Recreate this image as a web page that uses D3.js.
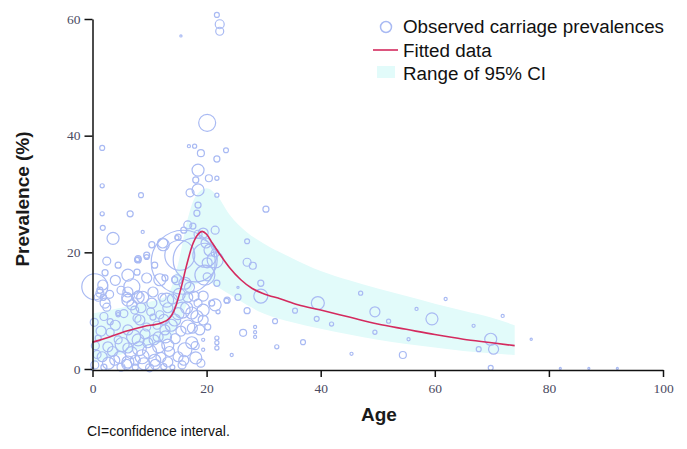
<!DOCTYPE html>
<html><head><meta charset="utf-8">
<script src="https://cdn.jsdelivr.net/npm/d3@7"></script>
<style>body{margin:0;background:#fff;}svg{display:block;}</style>
</head><body>
<svg id="chart" width="687" height="449"></svg>
<script>
// Observed carriage prevalences: age (years), prevalence (%), sample size
const obsAge = [21.8,22.3,22.3,15.5,20.1,1.7,17.9,16.9,19.0,23.4,21.8,18.5,18.1,20.4,18.5,17.1,21.8,21.8,1.7,8.5,30.4,18.5,18.3,
 1.7,6.6,1.8,3.6,8.8,12.4,10.9,7.8,9.5,2.5,4.5,6.2,6.9,0.4,1.3,1.9,2.5,4.5,6.9,8.0,8.3,10.6,11.8,13.0,14.8,16.2,
 15.9,18.0,15.3,19.7,19.7,21.5,
 16.7,16.0,17.6,18.5,15.0,21.5,19.9,
 8.0,10.4,12.3,14.8,9.5,7.8,12.7,14.4,9.5,
 1.0,2.2,3.1,4.5,6.2,7.4,8.8,10.4,12.2,13.2,14.4,15.7,16.7,17.4,18.8,18.5,16.7,21.5,22.0,23.6,
 21.8,21.8,21.8,19.4,19.4,24.4,
 16.2,17.4,15.0,18.1,8.0,9.7,11.5,13.2,6.2,4.5,2.7,1.7,3.9,6.2,8.7,10.9,13.2,15.7,0.4,1.0,3.1,6.2,9.5,11.3,12.7,7.8,10.6,11.8,
 27.1,27.1,28.1,29.5,29.5,25.5,23.5,27.1,26.4,28.5,28.5,28.5,32.0,32.3,36.9,35.5,39.5,39.3,25.5,
 47.0,49.5,41.9,49.5,51.9,45.4,54.4,56.8,61.9,59.5,55.4,66.8,71.9,69.8,70.3,67.7,69.8,76.9,82,87,92,
 19.4,20.6,20.1,21.5,20.1,21.8,19.4,19.4,19.4,20.9,20.2,
 8.0,1.8,1.3,6.0,6.2,8.0,
 2.0,5.0,7.5,10.0,12.5,14.0,0.0,0.3,0.5,
 0.8,1.5,2.0,2.8,3.5,4.0,4.8,5.2,5.5,6.0,6.8,7.2,7.5,8.2,8.5,9.0,9.2,10.0,10.2,10.8,11.0,11.6,12.0,12.5,12.8,13.5,13.8,14.0,14.5,15.0,15.2,15.5,16.0,16.5,17.0,17.5,18.0,18.3,17.8,19.0,3.0,5.0,4.0,2.2];
const obsPrev = [60.7,59.1,57.9,57.1,42.2,37.9,38.2,38.2,37.0,37.5,36.0,34.1,32.4,32.7,30.7,30.2,32.7,29.8,31.4,29.8,27.4,28.1,26.7,
 26.6,26.6,24.2,22.4,23.5,21.3,17.8,18.7,19.2,18.5,17.8,16.1,14.1,14.1,13.5,12.3,10.6,9.3,11.0,12.3,8.4,13.2,15.3,11.8,15.3,14.7,
 18.3,18.7,19.5,19.5,16.1,18.7,
 24.7,23.8,24.5,23.1,22.6,23.8,21.6,
 18.7,21.3,21.6,22.5,19.5,16.6,15.6,15.3,15.6,
 12.3,11.3,8.1,9.6,11.8,10.1,12.3,11.3,12.3,10.5,8.4,10.1,7.2,9.6,6.7,11.3,12.3,11.0,9.8,11.8,
 5.3,4.5,3.6,5.0,3.3,2.4,
 3.3,4.5,2.1,1.9,5.0,4.5,5.5,4.1,3.6,5.0,3.8,2.1,1.5,1.2,2.1,1.5,1.2,0.7,0.7,5.3,6.3,6.7,7.2,7.5,6.7,8.7,8.9,9.3,
 21.9,18.3,17.7,14.7,12.5,12.3,11.7,10.0,6.2,7.2,6.3,5.5,8.2,3.8,4.6,10.0,11.3,8.6,14.0,
 13.0,9.8,7.7,6.3,8.2,2.6,2.4,10.3,12.0,8.6,5.1,7.4,9.1,5.1,3.4,3.4,0.2,5.1,0.1,0.1,0.1,
 23.3,20.4,18.2,19.9,15.8,14.7,12.5,10.1,8.4,11.3,7.2,
 18.9,14.4,13.0,12.3,13.2,12.7,
 0.3,0.3,0.3,0.2,0.4,0.3,0.0,8.0,4.0,
 2.5,6.5,9.0,1.0,3.0,7.5,2.0,4.2,9.5,0.8,2.8,5.5,1.5,3.5,10.5,0.9,6.0,3.0,9.8,5.0,0.8,3.8,2.0,8.5,5.5,3.0,7.5,12.0,5.2,9.5,12.8,6.5,1.5,10.5,14.0,7.0,4.0,9.0,12.5,1.0,12.8,13.5,15.2,16.5];
const obsN = [10,33,26,2,118,10,7,4,20,10,15,59,15,20,59,26,7,7,7,10,15,15,15,
 7,15,10,59,4,59,15,10,10,26,15,59,105,276,15,15,26,7,41,59,41,41,59,80,41,59,
 1672,790,367,235,163,105,
 26,15,15,26,15,26,41,
 15,15,41,7,15,15,15,15,41,
 26,41,15,10,59,26,59,41,26,41,59,105,80,59,41,26,41,59,7,15,
 7,7,7,4,4,4,
 80,59,41,59,59,41,41,59,41,26,41,41,41,59,80,59,41,26,26,15,26,41,26,26,41,26,15,26,
 10,26,20,15,80,15,10,15,20,4,4,4,10,7,10,10,69,10,2,
 7,41,7,7,7,4,20,4,4,59,4,4,4,59,41,10,10,2,1,1,1,
 41,59,41,26,26,15,41,59,41,15,15,
 15,41,26,41,41,26,
 15,26,15,26,15,10,4,26,26,
 26,41,26,59,41,41,59,80,26,41,59,80,41,80,41,59,41,80,26,41,41,59,41,41,59,41,59,41,41,59,59,41,41,59,41,41,26,59,41,26,26,26,41,15];

// Fitted curve
const fitAge  = [0,3,6,9,12,13.5,14.5,15.5,16.5,17.5,18.5,19.2,20,21,22.5,24,26,28,30,33,36,40,45,50,55,60,65,70,74];
const fitPrev = [4.6,5.5,6.5,7.3,7.9,8.7,10.5,13.8,17.8,21.2,23.1,23.6,23.1,21.6,19.4,17.4,15.3,13.8,12.9,12.0,11.0,10.1,8.9,7.7,6.8,5.9,5.1,4.5,4.0];

// 95% CI band
const ciAge   = [0,5,10,13,15,16.5,18,20,22,24,27,30,35,40,45,50,55,60,65,70,74];
const ciLower = [1.0,2.5,4.0,5.0,7.5,11.0,14.5,15.0,14.0,12.8,11.0,9.5,8.0,6.9,5.9,5.0,4.3,3.7,3.1,2.7,2.4];
const ciUpper = [9.5,10.5,11.5,12.5,18.0,25.0,29.5,31.0,29.5,26.5,23.5,21.5,19.0,16.8,15.2,13.8,12.5,11.2,10.0,8.8,7.5];

const xTicks = [0,20,40,60,80,100];
const yTicks = [0,20,40,60];

const svg = d3.select("#chart");
const x = d3.scaleLinear().domain([0,100]).range([92.5,663]);
const y = d3.scaleLinear().domain([0,60]).range([369,19]);
const r = d3.scaleSqrt().domain([0,2000]).range([0,35]);

// CI band
const band = ciAge.map((a,i)=>({a, lo:ciLower[i], hi:ciUpper[i]}));
svg.append("path").datum(band)
  .attr("fill","#e2fbfa")
  .attr("d", d3.area().x(d=>x(d.a)).y0(d=>y(d.lo)).y1(d=>y(d.hi)).curve(d3.curveMonotoneX));

// bubbles
const pts = obsAge.map((a,i)=>({a, p:obsPrev[i], n:obsN[i]}));
svg.append("g").selectAll("circle").data(pts).join("circle")
  .attr("cx", d=>x(d.a)).attr("cy", d=>y(d.p)).attr("r", d=>Math.max(1, r(d.n)))
  .attr("fill","none").attr("stroke","#a9baf3").attr("stroke-width",1.2);

// fitted line
const fit = fitAge.map((a,i)=>({a, p:fitPrev[i]}));
svg.append("path").datum(fit)
  .attr("fill","none").attr("stroke","#d42a5e").attr("stroke-width",1.6)
  .attr("d", d3.line().x(d=>x(d.a)).y(d=>y(d.p)).curve(d3.curveMonotoneX));

// axes
const gx = svg.append("g").attr("transform","translate(0,370)")
  .call(d3.axisBottom(x).tickValues(xTicks).tickSize(7).tickPadding(6).tickSizeOuter(0));
const gy = svg.append("g").attr("transform","translate(92.5,0)")
  .call(d3.axisLeft(y).tickValues(yTicks).tickSize(8).tickPadding(4).tickSizeOuter(0));
[gx,gy].forEach(g=>{
  g.select(".domain").attr("stroke","#111").attr("stroke-width",1.5);
  g.selectAll(".tick line").attr("stroke","#111").attr("stroke-width",1.5);
  g.selectAll(".tick text").attr("fill","#4b4b62").style("font-family","'Liberation Serif', serif").style("font-size","13.5px");
});

// titles
svg.append("text").attr("x",379).attr("y",421).attr("text-anchor","middle")
  .style("font-family","'Liberation Sans', Arial, sans-serif").style("font-weight","bold").style("font-size","19px")
  .attr("fill","#1a1a1a").text("Age");
svg.append("text").attr("transform","translate(29,199) rotate(-90)").attr("text-anchor","middle")
  .style("font-family","'Liberation Sans', Arial, sans-serif").style("font-weight","bold").style("font-size","19px")
  .attr("fill","#1a1a1a").text("Prevalence (%)");
svg.append("text").attr("x",87).attr("y",436)
  .style("font-family","'Liberation Sans', Arial, sans-serif").style("font-size","14px")
  .attr("fill","#111").text("CI=confidence interval.");

// legend
const lg = svg.append("g").style("font-family","'Liberation Sans', Arial, sans-serif").style("font-size","18.8px");
lg.append("circle").attr("cx",386).attr("cy",27).attr("r",5.5).attr("fill","none").attr("stroke","#a9baf3").attr("stroke-width",1.5);
lg.append("text").attr("x",403).attr("y",33).attr("fill","#111").text("Observed carriage prevalences");
lg.append("line").attr("x1",373).attr("x2",398).attr("y1",50).attr("y2",50).attr("stroke","#d42a5e").attr("stroke-width",1.6);
lg.append("text").attr("x",403).attr("y",57).attr("fill","#111").text("Fitted data");
lg.append("rect").attr("x",377).attr("y",66).attr("width",18).attr("height",12).attr("fill","#e2fbfa");
lg.append("text").attr("x",403).attr("y",80).attr("fill","#111").text("Range of 95% CI");
</script>
</body></html>
